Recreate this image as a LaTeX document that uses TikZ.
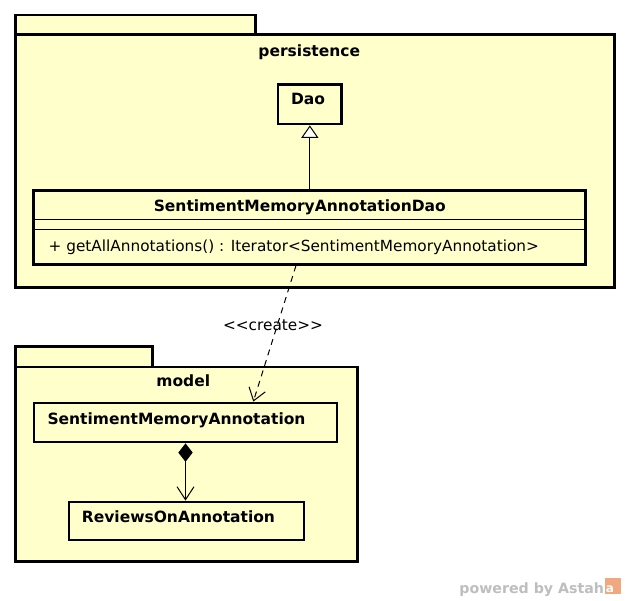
\documentclass[tikz,border=0pt]{standalone}
\usepackage{fontspec}
\setmainfont{DejaVu Sans}
\usetikzlibrary{arrows.meta}
\definecolor{pkgfill}{RGB}{255,255,204}
\definecolor{markgray}{RGB}{190,190,190}
\definecolor{markorange}{RGB}{240,168,128}
\tikzset{
  pkg/.style={draw=black, fill=pkgfill, line width=2.8pt, rectangle, inner sep=0pt, anchor=north west},
  classbox/.style={draw=black, fill=pkgfill, line width=2.8pt, rectangle, inner sep=0pt},
  bold/.style={font=\fontsize{15.5}{18}\selectfont\bfseries, inner sep=0pt, anchor=base},
  plain/.style={font=\fontsize{15.3}{18}\selectfont, inner sep=0pt, anchor=base},
  conn/.style={draw=black, line width=1pt},
}
\begin{document}
\begin{tikzpicture}[x=1pt, y=-1pt]
\useasboundingbox (0,0) rectangle (626,601);
\fill[white] (0,0) rectangle (626,601);

% ---- package: persistence ----
\node[pkg, minimum width=240pt, minimum height=19.6pt] (ptab) at (13.7,13.7) {};
\node[pkg, minimum width=599.6pt, minimum height=252.7pt] (pbody) at (13.7,33.3) {};
\node[bold, anchor=base] (pname) at (309.3,56.7) {persistence};

% class Dao
\node[classbox, minimum width=63.7pt, minimum height=39.3pt] (dao) at (309.85,104.35) {};
\node[bold] (daoname) at (308,104.3) {Dao};

% class SentimentMemoryAnnotationDao
\node[classbox, minimum width=552pt, minimum height=73.4pt] (smad) at (309.8,227.5) {};
\draw[line width=1pt] (smad.west |- 0,219.3) -- (smad.east |- 0,219.3);
\draw[line width=1pt] (smad.west |- 0,230) -- (smad.east |- 0,230);
\node[bold] (smadname) at (299.8,211.7) {SentimentMemoryAnnotationDao};
\node[plain, anchor=base west] (smadop) at (48.5,251.7)
  {+ getAllAnnotations() : Iterator<SentimentMemoryAnnotation>};

% ---- package: model ----
\node[pkg, minimum width=137.3pt, minimum height=20.2pt] (mtab) at (14,345.3) {};
\node[pkg, minimum width=342.3pt, minimum height=194.8pt] (mbody) at (14,365.5) {};
\node[bold] (mname) at (183.3,386.7) {model};

% class SentimentMemoryAnnotation
\node[classbox, minimum width=303pt, minimum height=39pt] (sma) at (185.5,422.5) {};
\node[bold, anchor=base west] (smaname) at (47.3,424) {SentimentMemoryAnnotation};

% class ReviewsOnAnnotation
\node[classbox, minimum width=235pt, minimum height=38pt] (roa) at (186.5,521) {};
\node[bold, anchor=base west] (roaname) at (81.7,522.7) {ReviewsOnAnnotation};

% ---- relations ----
% generalization
\draw[conn, -{Triangle[open, fill=white, length=12.4pt, width=17pt, line width=1pt]}]
  (smad.north -| dao.south) -- (dao.south);
% create dependency
\draw[conn, dash pattern=on 6pt off 5pt,
      -{Straight Barb[length=12pt, width=17pt, line width=1pt]}]
  ([xshift=-13.8pt]smad.south) -- ([xshift=67.8pt]sma.north);
\node[plain] (createlbl) at (273,330.7) {<{}<create>{}>};
% composition
\draw[conn, {Diamond[fill=black, length=18.4pt, width=14.4pt]}-{Straight Barb[length=13pt, width=17pt, line width=1pt]}]
  (sma.south) -- (sma.south |- roa.north);

% ---- footer ----
\node[font=\fontsize{14.2}{16}\selectfont\bfseries, text=markgray, inner sep=0pt, anchor=base east]
  (powered) at (604.3,593.3) {powered by Astah};
\node[fill=markorange, inner sep=0pt, minimum width=16pt, minimum height=16.5pt, anchor=north west]
  (logo) at (605,577.7) {};
\node[font=\fontsize{12}{12}\selectfont\bfseries, text=white, inner sep=0pt, anchor=base]
  (logoa) at (610,592.5) {a};
\end{tikzpicture}
\end{document}
